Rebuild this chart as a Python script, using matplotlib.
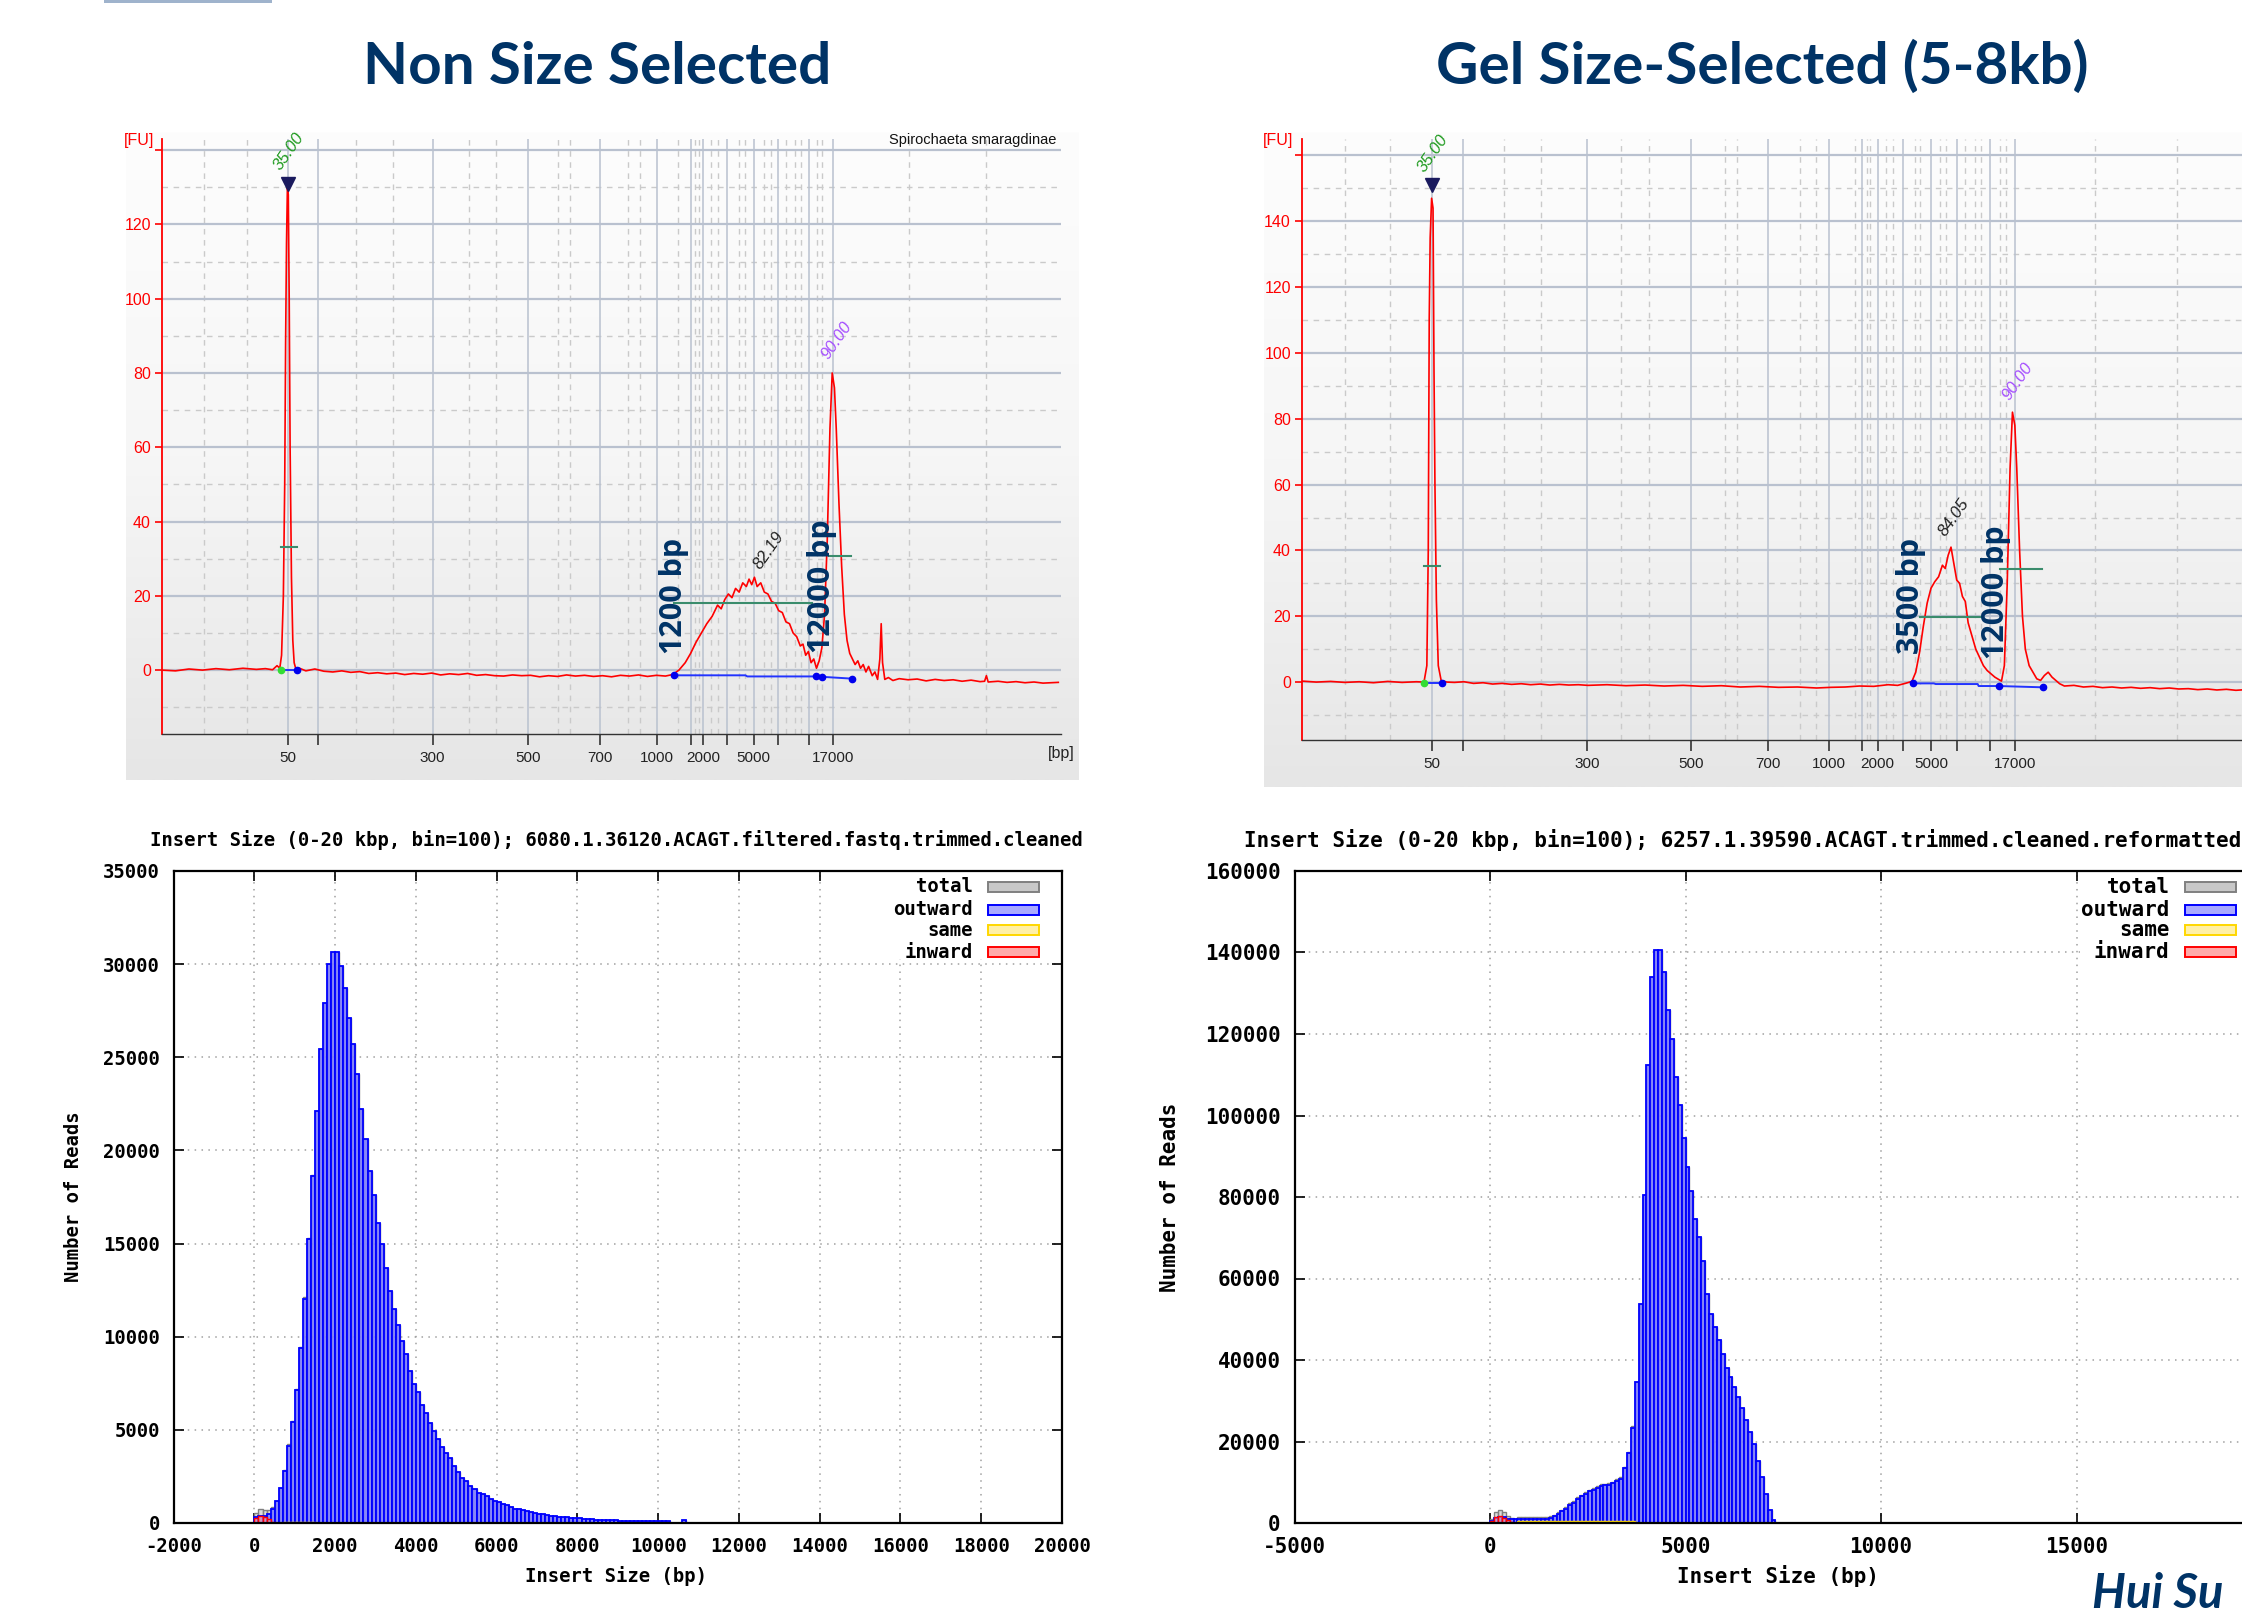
import matplotlib
matplotlib.use("Agg")
import matplotlib.pyplot as plt
import numpy as np
from matplotlib.colors import LinearSegmentedColormap
from matplotlib.patches import Rectangle

W, H = 2242, 1614
NAVY = "#003366"
GRID_BLUE = "#b9c1cf"
GRID_DASH = "#cacaca"
MONO = "DejaVu Sans Mono"
SANS = ["Liberation Sans", "DejaVu Sans"]

# ---------------- Bioanalyzer traces (x = position along the size axis, 0-100) ----------------
SIZE_LABELS = ["50", "300", "500", "700", "1000", "2000", "5000", "17000"]
NS_LABEL_POS = [13.98, 30.1, 40.7, 48.7, 55.1, 60.2, 65.8, 74.6]
GS_LABEL_POS = [13.6, 29.9, 40.8, 48.9, 55.3, 60.4, 66.0, 74.8]
NS_SOLID_X = [13.98, 17.3, 30.1, 40.7, 48.7, 55.1, 58.8, 60.2, 62.9, 65.8, 68.5, 72.0, 74.6]
GS_SOLID_X = [13.6, 16.9, 29.9, 40.8, 48.9, 55.3, 58.8, 60.4, 63.1, 66.0, 68.7, 72.2, 74.8]
NS_DASH_X = [4.7, 9.4, 21.6, 25.7, 34.1, 37.1, 44.0, 45.4, 51.8, 53.2, 57.4, 59.3, 59.7, 61.1,
             61.8, 64.2, 64.9, 67.0, 67.7, 69.4, 70.4, 71.1, 72.9, 73.4, 83.1, 91.7]
GS_DASH_X = [4.5, 9.2, 21.2, 25.1, 33.5, 36.4, 44.4, 45.6, 52.3, 53.9, 58.0, 59.3, 59.6, 61.3,
             62.0, 64.3, 64.9, 66.9, 67.6, 69.6, 70.6, 71.2, 73.2, 73.9, 83.2, 91.8]

NS_TRACE = [
    (0, 0.0), (1.5, -0.2), (3, 0.3), (4.5, 0.0), (6, 0.4), (7.5, 0.1), (9, 0.5), (10.5, 0.2),
    (11.5, 0.4), (12.3, 0.1), (12.8, 1.2), (13.1, 0.5), (13.3, 4), (13.5, 20), (13.65, 50),
    (13.75, 88), (13.85, 115), (13.95, 130), (14.05, 128), (14.15, 100), (14.25, 60), (14.4, 25),
    (14.55, 8), (14.7, 2), (14.9, 0.2), (15.3, 0.5), (16, -0.2), (17, 0.3), (18, -0.3), (19, -0.5),
    (20, -0.2), (21, -0.6), (22, -0.4), (23, -0.9), (24, -0.7), (25, -1.0), (26, -0.8), (27, -1.2),
    (28, -0.9), (29, -1.1), (30, -0.8), (31, -1.3), (32, -1.0), (33, -1.2), (34, -0.9), (35, -1.4),
    (36, -1.2), (37, -1.5), (38, -1.6), (39, -1.3), (40, -1.5), (41, -1.4), (42, -1.8), (43, -1.5),
    (44, -1.7), (45, -1.3), (46, -1.6), (47, -1.4), (48, -1.7), (49, -1.5), (50, -1.8), (51, -1.4),
    (52, -1.6), (53, -1.3), (54, -1.7), (55, -1.4), (56, -1.6), (56.8, -1.2), (57.5, 0.0),
    (58.2, 2.0), (58.8, 4.5), (59.4, 7.5), (60, 10.0), (60.6, 12.5), (61.2, 14.5), (61.8, 17.5),
    (62.2, 16.5), (62.6, 19.0), (63.0, 20.5), (63.4, 19.5), (63.8, 22.0), (64.2, 21.0), (64.6, 23.5),
    (65.0, 22.5), (65.3, 24.5), (65.6, 23.0), (65.9, 25.0), (66.2, 22.5), (66.6, 23.5), (67.0, 21.0),
    (67.4, 20.5), (67.8, 18.5), (68.2, 18.0), (68.6, 16.0), (69.0, 15.5), (69.4, 13.0), (69.8, 12.5),
    (70.2, 10.0), (70.6, 9.0), (71.0, 6.5), (71.3, 7.0), (71.6, 4.0), (71.9, 5.0), (72.2, 2.0),
    (72.5, 3.0), (72.8, 0.5), (73.1, 2.5), (73.4, 6.0), (73.7, 15.0), (74.0, 35.0), (74.3, 65.0),
    (74.55, 80.0), (74.8, 76.0), (75.0, 65.0), (75.3, 45.0), (75.6, 28.0), (75.9, 15.0), (76.2, 8.0),
    (76.5, 4.5), (76.8, 3.0), (77.1, 1.5), (77.4, 2.5), (77.7, 0.5), (78.0, 1.5), (78.3, -0.5),
    (78.6, 1.0), (79.0, -1.5), (79.3, -0.5), (79.6, -2.5), (79.85, 3.0), (80.0, 12.5), (80.15, 2.0),
    (80.4, -2.5), (80.8, -2.0), (81.3, -2.8), (82, -2.3), (83, -2.6), (84, -2.4), (85, -2.9),
    (86, -2.5), (87, -2.8), (88, -2.6), (89, -3.0), (90, -2.7), (91, -3.1), (91.5, -3.0),
    (91.7, -1.5), (91.9, -3.2), (93, -3.0), (94, -3.3), (95, -3.1), (96, -3.4), (97, -3.2),
    (98, -3.5), (99.7, -3.3),
]
GS_TRACE = [
    (0, 0.3), (1.5, 0.0), (3, 0.2), (4.5, -0.1), (6, 0.1), (7.5, -0.2), (9, 0.2), (10.5, -0.1),
    (12, 0.1), (12.8, 0.0), (13.1, 5), (13.25, 40), (13.35, 110), (13.45, 135), (13.6, 147),
    (13.75, 144), (13.85, 95), (13.95, 60), (14.1, 25), (14.3, 5), (14.6, 0.5), (15.2, 0.0),
    (16, -0.1), (17, 0.1), (18, -0.4), (19, -0.2), (20, -0.6), (21, -0.4), (22, -0.7), (23, -0.5),
    (24, -0.8), (25, -0.6), (26, -0.9), (27, -0.7), (28, -0.9), (29, -0.8), (30, -1.0), (32, -0.8),
    (34, -1.1), (36, -0.9), (38, -1.2), (40, -1.0), (42, -1.3), (44, -1.1), (46, -1.5), (48, -1.3),
    (50, -1.6), (52, -1.5), (54, -1.8), (55.5, -1.6), (57, -1.5), (58.5, -1.2), (60, -1.3),
    (61.5, -0.8), (62.5, -1.0), (63.3, -0.4), (64.0, 0.2), (64.4, 3.0), (64.8, 9.0), (65.2, 17.0),
    (65.6, 24.0), (66.0, 28.5), (66.4, 30.5), (66.8, 32.0), (67.2, 35.5), (67.5, 34.5),
    (67.8, 38.5), (68.1, 41.0), (68.4, 36.0), (68.7, 31.0), (69.0, 30.0), (69.3, 26.0),
    (69.6, 24.5), (69.9, 18.0), (70.3, 14.0), (70.7, 10.0), (71.1, 7.5), (71.5, 5.0), (71.9, 3.5),
    (72.3, 2.5), (72.7, 1.5), (73.1, 0.8), (73.4, 0.3), (73.7, 5.0), (74.0, 30.0), (74.3, 65.0),
    (74.55, 82.0), (74.8, 78.0), (75.0, 65.0), (75.3, 40.0), (75.6, 20.0), (75.9, 10.0),
    (76.3, 5.0), (76.7, 3.0), (77.1, 1.0), (77.5, 0.5), (77.9, 2.0), (78.3, 3.0), (78.7, 1.5),
    (79.1, 0.5), (79.5, -0.5), (80.0, -1.2), (81, -1.0), (82, -1.5), (83, -1.3), (84, -1.7),
    (85, -1.5), (86, -1.8), (87, -1.6), (88, -1.9), (89, -1.7), (90, -2.0), (91, -1.8), (92, -2.1),
    (93, -2.0), (94, -2.3), (95, -2.1), (96, -2.4), (97, -2.2), (98, -2.5), (99, -2.3), (100, -2.5),
]
# integration baselines (blue), start/end dots, half-height bars (green)
NS_BASELINES = [[(13.2, 0.0), (15.0, 0.0)],
                [(56.9, -1.4), (64.9, -1.4), (65.1, -1.7), (72.7, -1.7)],
                [(73.4, -1.8), (76.8, -2.3)]]
GS_BASELINES = [[(12.8, -0.4), (14.7, -0.4)],
                [(64.1, -0.4), (66.3, -0.4), (66.5, -0.6), (70.9, -0.6), (71.0, -1.2), (73.1, -1.2)],
                [(73.1, -1.2), (77.8, -1.6)]]
NS_GREEN_DOT = (13.2, 0.0)
GS_GREEN_DOT = (12.8, -0.4)
NS_BLUE_DOTS = [(15.0, 0.0), (56.9, -1.4), (72.7, -1.7), (73.4, -1.8), (76.8, -2.3)]
GS_BLUE_DOTS = [(14.7, -0.4), (64.1, -0.4), (73.1, -1.2), (77.8, -1.6)]
NS_HALF = [(13.2, 15.0, 33.1), (57.0, 72.3, 18.2), (74.2, 76.6, 30.8)]
GS_HALF = [(12.8, 14.5, 35.4), (64.9, 71.4, 19.7), (73.2, 77.7, 34.4)]
NS_MARKER = (13.98, 131)
GS_MARKER = (13.6, 151)
NS_PEAK_TEXT = [("35.00", 13.5, 134, "#1e9a1e"), ("82.19", 66.8, 26.5, "#222222"), ("90.00", 74.4, 83, "#a44dff")]
GS_PEAK_TEXT = [("35.00", 13.1, 154, "#1e9a1e"), ("84.05", 67.8, 43.5, "#222222"), ("90.00", 74.5, 85, "#a44dff")]
NS_BIG_LABELS = [("1200 bp", 56.9, 19.9), ("12000 bp", 73.4, 22.5)]
GS_BIG_LABELS = [("3500 bp", 63.9, 26.3), ("12000 bp", 72.8, 27.3)]

# ---------------- insert size histograms (bin = 100 bp) ----------------
NS_OUTWARD = [300, 380, 400, 490, 760, 1170, 1900, 2800, 4160, 5440,
              7150, 9380, 12050, 15230, 18630, 22110, 25460, 27900, 30000, 30630,
              30630, 29920, 28700, 27090, 25730, 24100, 22250, 20620, 18900, 17630,
              16130, 14960, 13680, 12460, 11500, 10610, 9790, 9060, 8160, 7480,
              7020, 6340, 5880, 5390, 4920, 4520, 4080, 3750, 3480, 3070,
              2720, 2390, 2260, 1990, 1800, 1630, 1580, 1440, 1310, 1170,
              1120, 1030, 950, 870, 760, 730, 680, 630, 570, 520,
              490, 460, 410, 380, 350, 330, 300, 300, 270, 245,
              245, 220, 220, 190, 180, 170, 160, 150, 150, 140,
              120, 110, 110, 100, 100, 100, 100, 100, 100, 100,
              100, 100, 100, 0, 0, 0, 150]
NS_INWARD = [250, 380, 300, 200, 80]
NS_SAME = [0, 0, 0, 0, 0, 0, 0, 60, 60, 60, 60, 60, 60, 60, 60]
GS_OUTWARD = [500, 1200, 1500, 1500, 1000, 1000, 1000, 1000, 1000, 1000,
              1000, 1000, 1000, 1100, 1100, 1240, 1700, 2200, 2900, 3500,
              4500, 5000, 6000, 6600, 7200, 7800, 8200, 8700, 9100, 9300,
              9400, 9700, 10300, 10900, 13400, 17150, 23400, 34600, 53800, 80500,
              112500, 134000, 140600, 140600, 135200, 125900, 118700, 109500, 102500, 94600,
              87400, 81400, 74600, 70100, 64400, 56200, 51300, 48200, 44900, 41400,
              38000, 35800, 33300, 30800, 28100, 25200, 22400, 19400, 15300, 11200,
              7000, 3200, 750]
GS_INWARD = [600, 1400, 1600, 1200, 700, 300]
GS_SAME = [0, 0, 0, 0, 0, 0, 0] + [380] * 30
KEY_LABELS = ["total", "outward", "same", "inward"]
KEY_FACE = ["#c8c8c8", "#aaaaff", "#fff0a8", "#ffaaaa"]
KEY_EDGE = ["#808080", "#0000ff", "#ffd700", "#ff0000"]


def px_rect(left, top, right, bottom):
    return [left / W, 1 - bottom / H, (right - left) / W, (bottom - top) / H]


def gradient_panel(fig, rect):
    ax = fig.add_axes(rect, zorder=0)
    cmap = LinearSegmentedColormap.from_list("bg", ["#fdfdfd", "#f6f6f6", "#e6e6e6"])
    ax.imshow(np.linspace(0, 1, 256).reshape(-1, 1), aspect="auto", cmap=cmap,
              extent=[0, 1, 0, 1], origin="upper")
    ax.set_axis_off()


def draw_epg(fig, rect, trace, ylim, grid_top, label_top, label_pos, solid_x, dash_x,
             baselines, green_dot, blue_dots, half, marker, peak_text, big_labels, bp_label):
    ax = fig.add_axes(rect, zorder=1)
    ax.set_facecolor("none")
    ax.set_xlim(0, 100)
    ax.set_ylim(*ylim)
    for sp in ["top", "right"]:
        ax.spines[sp].set_visible(False)
    ax.spines["left"].set_color("#ff0000")
    ax.spines["left"].set_linewidth(1.3)
    ax.spines["bottom"].set_color("#333333")
    ax.spines["bottom"].set_linewidth(1.0)

    for v in range(-10, grid_top, 20):
        ax.axhline(v, color=GRID_DASH, lw=1.0, dashes=(4, 4), zorder=1)
    for v in range(0, grid_top + 1, 20):
        ax.axhline(v, color=GRID_BLUE, lw=1.6, zorder=1.2)
    for v in dash_x:
        ax.axvline(v, color=GRID_DASH, lw=1.0, dashes=(4, 4), zorder=1)
    for v in solid_x:
        ax.axvline(v, color=GRID_BLUE, lw=1.1, zorder=1.2)

    yt = list(range(0, grid_top + 1, 20))
    ax.set_yticks(yt, [str(v) if v <= label_top else "" for v in yt])
    ax.tick_params(axis="y", colors="#ff0000", length=5, width=1.2, labelsize=11.5, pad=3)
    for lab in ax.get_yticklabels():
        lab.set_family(SANS)
    ax.set_xticks(label_pos, SIZE_LABELS)
    ax.set_xticks([v for v in solid_x if v not in label_pos], minor=True)
    ax.tick_params(axis="x", which="both", direction="out", length=8, width=1.2,
                   color="#333333", labelcolor="#222222", labelsize=11, pad=4)
    for lab in ax.get_xticklabels():
        lab.set_family(SANS)
    if bp_label:
        ax.text(100, ylim[0] - 3.2, "[bp]", ha="center", va="top",
                fontsize=11.5, family=SANS, color="#222222")

    xs, ys = zip(*trace)
    ax.plot(xs, ys, color="#ff0000", lw=1.2, zorder=4)
    for seg in baselines:
        bx, by = zip(*seg)
        ax.plot(bx, by, color="#2233ff", lw=1.4, zorder=5)
    for x0, x1, y in half:
        ax.plot([x0, x1], [y, y], color="#3a8c6c", lw=1.5, zorder=5)
    bx, by = zip(*blue_dots)
    ax.plot(bx, by, "o", color="#0000ee", ms=4.5, zorder=6)
    ax.plot(*green_dot, "o", color="#33dd33", ms=4.5, zorder=6)
    ax.plot(*marker, "v", color="#1a1a5e", ms=10, zorder=6)
    for txt, x, y, c in peak_text:
        ax.text(x, y, txt, color=c, fontsize=12, style="italic", family=SANS, rotation=55,
                rotation_mode="anchor", ha="left", va="bottom", zorder=7)
    for txt, x, y in big_labels:
        ax.text(x, y, txt, color=NAVY, fontsize=22, fontweight="bold", family="Open Sans",
                rotation=90, ha="center", va="center", zorder=8)
    return ax


def draw_hist(fig, rect, outward, inward, same, xlim, xticks, ylim, yticks, fs, key_x0, key_y0):
    ax = fig.add_axes(rect, zorder=1)
    n = len(outward)
    starts = np.arange(n) * 100
    inw = np.zeros(n)
    inw[:len(inward)] = inward
    sm = np.zeros(n)
    sm[:len(same)] = same
    total = np.array(outward) + inw + sm
    ax.bar(starts, total, width=100, align="edge", facecolor=(0.78, 0.78, 0.78, 0.6),
           edgecolor="#808080", lw=1.0, zorder=2)
    ax.bar(starts, outward, width=100, align="edge", facecolor=(0.45, 0.45, 1.0, 0.8),
           edgecolor="#0000ff", lw=1.3, zorder=3)
    ax.bar(starts, sm, width=100, align="edge", facecolor=(1.0, 0.94, 0.6, 0.6),
           edgecolor="#ffd700", lw=1.0, zorder=4)
    ax.bar(starts, inw, width=100, align="edge", facecolor=(1.0, 0.6, 0.6, 0.6),
           edgecolor="#ff0000", lw=1.0, zorder=5)
    ax.set_xlim(*xlim)
    ax.set_ylim(*ylim)
    ax.set_xticks(xticks, [str(v) for v in xticks])
    ax.set_yticks(yticks, [str(v) for v in yticks])
    ax.grid(True, color="#a0a0a0", lw=1.1, dashes=(1, 3.5), zorder=0)
    ax.set_axisbelow(True)
    ax.tick_params(direction="in", length=7, width=1.2, top=True, right=True,
                   labelsize=fs, pad=10)
    for lab in ax.get_xticklabels() + ax.get_yticklabels():
        lab.set_family(MONO)
        lab.set_fontweight("bold")
    for sp in ax.spines.values():
        sp.set_linewidth(1.6)
        sp.set_zorder(10)
    ax.add_patch(Rectangle((key_x0, key_y0), xlim[1] - key_x0, ylim[1] - key_y0,
                           facecolor="white", edgecolor="none", zorder=6))
    return ax


def draw_key(fig, text_right, box_left, rows, fs):
    for lab, fc, ec, y in zip(KEY_LABELS, KEY_FACE, KEY_EDGE, rows):
        fig.text(text_right / W, 1 - y / H, lab, ha="right", va="center", fontsize=fs,
                 family=MONO, fontweight="bold", zorder=20)
        fig.add_artist(Rectangle((box_left / W, 1 - (y + 5) / H), 51 / W, 10 / H,
                                 transform=fig.transFigure, facecolor=fc, edgecolor=ec,
                                 lw=1.4, zorder=20))


fig = plt.figure(figsize=(W / 100, H / 100), dpi=100)
fig.patch.set_facecolor("white")

fig.add_artist(Rectangle((104 / W, 1 - 3 / H), 168 / W, 3 / H, transform=fig.transFigure,
                         facecolor="#9fb3cc", edgecolor="none"))

fig.text(597 / W, 1 - 67 / H, "Non Size Selected", ha="center", va="center", fontsize=42,
         fontweight="bold", family="Lato", color=NAVY)
fig.text(1762 / W, 1 - 67 / H, "Gel Size-Selected (5-8kb)", ha="center", va="center",
         fontsize=42, fontweight="bold", family="Lato", color=NAVY)

# electropherogram panels
gradient_panel(fig, px_rect(126, 132, 1079, 780))
draw_epg(fig, px_rect(162, 139, 1061, 734), NS_TRACE, (-17.2, 143), 140, 120,
         NS_LABEL_POS, NS_SOLID_X, NS_DASH_X, NS_BASELINES, NS_GREEN_DOT, NS_BLUE_DOTS,
         NS_HALF, NS_MARKER, NS_PEAK_TEXT, NS_BIG_LABELS, True)
fig.text(139 / W, 1 - 140 / H, "[FU]", color="#ff0000", fontsize=11.5, family=SANS,
         ha="center", va="center", zorder=5)
fig.text(1056 / W, 1 - 140 / H, "Spirochaeta smaragdinae", color="#111111", fontsize=10.5,
         family=SANS, ha="right", va="center", zorder=5)

gradient_panel(fig, px_rect(1264, 132, 2250, 787))
draw_epg(fig, px_rect(1302, 139, 2255, 740), GS_TRACE, (-17.6, 165), 160, 140,
         GS_LABEL_POS, GS_SOLID_X, GS_DASH_X, GS_BASELINES, GS_GREEN_DOT, GS_BLUE_DOTS,
         GS_HALF, GS_MARKER, GS_PEAK_TEXT, GS_BIG_LABELS, False)
fig.text(1278 / W, 1 - 140 / H, "[FU]", color="#ff0000", fontsize=11.5, family=SANS,
         ha="center", va="center", zorder=5)

# insert size histograms
draw_hist(fig, px_rect(173.7, 871, 1062, 1523), NS_OUTWARD, NS_INWARD, NS_SAME,
          (-2000, 20000), list(range(-2000, 20001, 2000)), (0, 35000),
          list(range(0, 35001, 5000)), 13.6, 15600, 30250)
fig.text(616 / W, 1 - 840 / H,
         "Insert Size (0-20 kbp, bin=100); 6080.1.36120.ACAGT.filtered.fastq.trimmed.cleaned",
         ha="center", va="center", fontsize=13.6, family=MONO, fontweight="bold")
fig.text(73.7 / W, 1 - 1197 / H, "Number of Reads", rotation=90, ha="center", va="center",
         fontsize=13.6, family=MONO, fontweight="bold")
fig.text(616 / W, 1 - 1576 / H, "Insert Size (bp)", ha="center", va="center",
         fontsize=13.6, family=MONO, fontweight="bold")
draw_key(fig, 973, 987.6, [887, 909.6, 930, 952], 13.6)

draw_hist(fig, px_rect(1294.6, 871, 2272, 1523), GS_OUTWARD, GS_INWARD, GS_SAME,
          (-5000, 20000), list(range(-5000, 15001, 5000)), (0, 160000),
          list(range(0, 160001, 20000)), 15, 15100, 138000)
fig.text(1244 / W, 1 - 840 / H,
         "Insert Size (0-20 kbp, bin=100); 6257.1.39590.ACAGT.trimmed.cleaned.reformatted",
         ha="left", va="center", fontsize=15, family=MONO, fontweight="bold")
fig.text(1169.5 / W, 1 - 1197 / H, "Number of Reads", rotation=90, ha="center", va="center",
         fontsize=15, family=MONO, fontweight="bold")
fig.text(1778 / W, 1 - 1576 / H, "Insert Size (bp)", ha="center", va="center",
         fontsize=15, family=MONO, fontweight="bold")
draw_key(fig, 2169.6, 2185, [887, 909.6, 930, 952], 15)

fig.text(2092 / W, 1 - 1608 / H, "Hui Su", ha="left", va="baseline", fontsize=34,
         fontweight="bold", style="italic", family="Lato", color=NAVY)

fig.savefig("out.png", dpi=100)
